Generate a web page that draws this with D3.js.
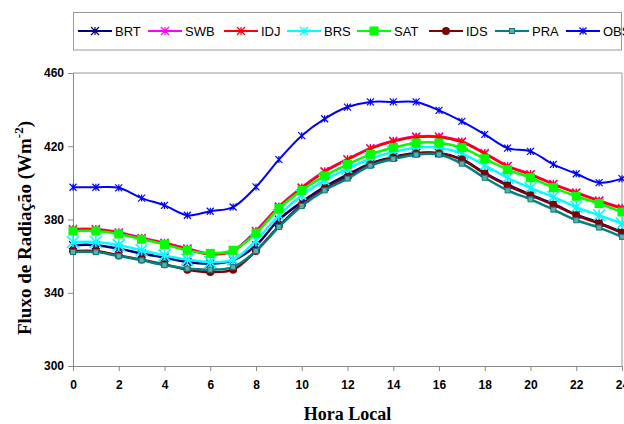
<!DOCTYPE html>
<html>
<head>
<meta charset="utf-8">
<script src="https://cdn.jsdelivr.net/npm/d3@7"></script>
<style>
  body { margin: 0; background: #fff; }
  svg { display: block; }
</style>
</head>
<body>
<div id="chart"></div>
<script>
// hours 0..24
var hours = d3.range(0, 25);
var xTicks = d3.range(0, 25, 2);
var yTicks = [300, 340, 380, 420, 460];

var BRT = [366, 366, 364.1, 361.4, 359.2, 356.8, 355.9, 357.7, 365.9, 379.9, 389.5, 397.8, 404.5, 410.5, 414.1, 416.3, 416.3, 412.9, 405.4, 399, 393.6, 388.5, 382.7, 378.2, 373.1];
var SWB = [374.8, 374.8, 373, 370, 367.3, 364.2, 361.3, 363.1, 373.8, 387.1, 397.5, 406.4, 413, 419, 423, 425.3, 425.3, 422.6, 416.3, 409.3, 404.8, 399.5, 394.8, 390.4, 386.3];
var IDJ = [374.5, 374.5, 372.7, 369.7, 367, 363.9, 361, 362.8, 373.5, 386.8, 397.2, 406.1, 412.7, 418.7, 422.7, 425, 425, 422.3, 416, 409, 404.5, 399.2, 394.5, 390.1, 386];
var BRS = [367.7, 367.7, 366, 363.2, 360.4, 358.1, 356.8, 358.1, 368.6, 382.3, 393.2, 401.4, 407.8, 413.2, 416.9, 419.2, 419.2, 416, 409.6, 402.8, 397.2, 392.3, 386.8, 382.3, 377.8];
var SAT = [373.7, 373.7, 372.1, 369.2, 366.4, 363.2, 361.5, 363.2, 372.6, 386, 395.9, 403.8, 410.1, 415.6, 419.2, 421.8, 421.8, 419.2, 413.2, 407.2, 402.8, 397.4, 392.7, 388.7, 384.1];
var IDS = [362.8, 362.8, 360.4, 358.1, 355.5, 352.6, 351.3, 352.6, 362.8, 376.4, 388.1, 396.9, 403.2, 410.1, 413.8, 416.1, 416.1, 412.7, 405, 398.5, 393.2, 388.1, 382.3, 377.8, 372.7];
var PRA = [362.2, 362.2, 360, 357.7, 355.1, 353.2, 352.6, 354, 362.8, 375.9, 387.4, 395.9, 402.3, 409.4, 413, 415.4, 415.5, 410.5, 402.8, 395.9, 391, 385.4, 379.6, 375.6, 370.5];
var OBS = [397.6, 397.6, 397.3, 391.7, 387.7, 382.3, 384.5, 386.8, 397.8, 412.7, 425.8, 435, 441.4, 444.2, 444.2, 444.2, 439.6, 433.6, 426.5, 419, 417.2, 410.1, 405, 400.1, 402.3];

var seriesNames = ['BRT', 'SWB', 'IDJ', 'BRS', 'SAT', 'IDS', 'PRA', 'OBS'];
var seriesValues = [BRT, SWB, IDJ, BRS, SAT, IDS, PRA, OBS];

var styles = {
  BRT: { color: '#000080', marker: 'star', w: 2.5 },
  SWB: { color: '#ff00ff', marker: 'star', w: 2.5 },
  IDJ: { color: '#ff0000', marker: 'star', w: 2.5 },
  BRS: { color: '#00ffff', marker: 'bigstar', w: 2.5 },
  SAT: { color: '#00ff00', marker: 'square', w: 2.5 },
  IDS: { color: '#800000', marker: 'circle', w: 2.5 },
  PRA: { color: '#008080', marker: 'smallsquare', w: 2.5 },
  OBS: { color: '#0000ff', marker: 'smallstar', w: 2 }
};

var width = 624, height = 424;
var margin = { left: 73, right: 2, top: 73, bottom: 58 };

var svg = d3.select('#chart')
  .append('svg')
    .attr('width', width)
    .attr('height', height);

var x = d3.scaleLinear().domain([0, 24]).range([margin.left, width - margin.right]);
var y = d3.scaleLinear().domain([300, 460]).range([height - margin.bottom, margin.top]);

// plot area border (top and right)
svg.append('path')
  .attr('d', 'M' + x(0) + ',' + y(460) + 'H' + x(24) + 'V' + y(300))
  .attr('fill', 'none')
  .attr('stroke', '#999')
  .attr('stroke-width', 1);

// axes
var xAxis = svg.append('g')
  .attr('transform', 'translate(0,' + y(300) + ')')
  .call(d3.axisBottom(x).tickValues(xTicks).tickSize(5).tickPadding(9));
var yAxis = svg.append('g')
  .attr('transform', 'translate(' + x(0) + ',0)')
  .call(d3.axisLeft(y).tickValues(yTicks).tickSize(5).tickPadding(4));

[xAxis, yAxis].forEach(function (g) {
  g.select('.domain').attr('stroke', '#888');
  g.selectAll('.tick line').attr('stroke', '#888');
  g.selectAll('.tick text')
    .attr('fill', '#000')
    .style('font-family', 'Liberation Sans, Arial, sans-serif')
    .style('font-size', '12px')
    .style('font-weight', 'bold');
});

// lines
var line = d3.line()
  .x(function (d, i) { return x(hours[i]); })
  .y(function (d) { return y(d); })
  .curve(d3.curveCatmullRom.alpha(0.5));

function drawMarker(g, type, color, cx, cy) {
  if (type === 'square') {
    g.append('rect').attr('x', cx - 4.5).attr('y', cy - 4.5).attr('width', 9).attr('height', 9)
      .attr('fill', color);
  } else if (type === 'smallsquare') {
    g.append('rect').attr('x', cx - 2.5).attr('y', cy - 2.5).attr('width', 5).attr('height', 5)
      .attr('fill', '#66aaaa').attr('stroke', color).attr('stroke-width', 1);
  } else if (type === 'circle') {
    g.append('circle').attr('cx', cx).attr('cy', cy).attr('r', 4).attr('fill', color);
  } else {
    var r = type === 'bigstar' ? 6 : (type === 'smallstar' ? 3.5 : 4);
    var sw = type === 'bigstar' ? 1.6 : 1.2;
    g.append('path')
      .attr('d', 'M' + (cx - r) + ',' + (cy - r) + 'L' + (cx + r) + ',' + (cy + r) +
                 'M' + (cx - r) + ',' + (cy + r) + 'L' + (cx + r) + ',' + (cy - r) +
                 'M' + cx + ',' + (cy - r) + 'L' + cx + ',' + (cy + r))
      .attr('stroke', color).attr('stroke-width', sw).attr('fill', 'none');
  }
}

seriesNames.forEach(function (name, si) {
  var st = styles[name];
  var vals = seriesValues[si];
  var g = svg.append('g').attr('class', 'series-' + name);
  g.append('path')
    .datum(vals)
    .attr('d', line)
    .attr('fill', 'none')
    .attr('stroke', st.color)
    .attr('stroke-width', st.w);
  vals.forEach(function (v, i) {
    drawMarker(g, st.marker, st.color, x(hours[i]), y(v));
  });
});

// legend
var legend = svg.append('g');
legend.append('rect')
  .attr('x', 73.5).attr('y', 12.5)
  .attr('width', 548).attr('height', 37.5)
  .attr('fill', '#fff').attr('stroke', '#999');

var legendX = [78, 148, 224, 287, 357, 429, 495, 566];
seriesNames.forEach(function (name, i) {
  var st = styles[name];
  var lx = legendX[i], ly = 31;
  legend.append('line')
    .attr('x1', lx).attr('x2', lx + 34).attr('y1', ly).attr('y2', ly)
    .attr('stroke', st.color).attr('stroke-width', 2);
  drawMarker(legend, st.marker === 'bigstar' ? 'star' : st.marker, st.color, lx + 17, ly);
  legend.append('text')
    .attr('x', lx + 37).attr('y', ly + 5)
    .style('font-family', 'Liberation Sans, Arial, sans-serif')
    .style('font-size', '13px')
    .text(name);
});

// axis titles
svg.append('text')
  .attr('x', (x(0) + x(24)) / 2)
  .attr('y', 420)
  .attr('text-anchor', 'middle')
  .style('font-family', 'Liberation Serif, Times New Roman, serif')
  .style('font-size', '18px')
  .style('font-weight', 'bold')
  .text('Hora Local');

var yt = svg.append('text')
  .attr('transform', 'translate(31,' + 228 + ') rotate(-90)')
  .attr('text-anchor', 'middle')
  .style('font-family', 'Liberation Serif, Times New Roman, serif')
  .style('font-size', '19px')
  .style('font-weight', 'bold');
yt.append('tspan').text('Fluxo de Radiação (Wm');
yt.append('tspan').attr('dy', -8).style('font-size', '13px').text('-2');
yt.append('tspan').attr('dy', 8).text(')');
</script>
</body>
</html>
